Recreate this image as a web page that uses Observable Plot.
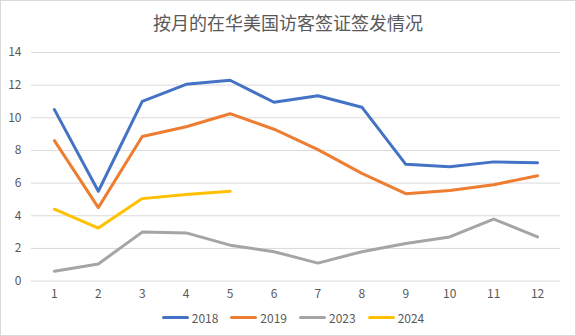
<!DOCTYPE html>
<html><head><meta charset="utf-8">
<script src="https://cdn.jsdelivr.net/npm/d3@7"></script>
<script src="https://cdn.jsdelivr.net/npm/@observablehq/plot@0.6"></script>
<style>
html,body{margin:0;padding:0;background:#fff;}
#wrap{position:relative;width:576px;height:336px;box-sizing:border-box;border:1px solid #d9d9d9;font-family:"Noto Sans CJK SC","Noto Sans",sans-serif;overflow:hidden;}
#title{position:absolute;left:0;top:8px;width:574px;text-align:center;font-size:18px;color:#595959;}
#chart{position:absolute;left:-1px;top:39px;}
#legend{position:absolute;left:5px;top:308px;width:574px;display:flex;justify-content:center;gap:12px;font-size:12px;color:#595959;}
.item{display:flex;align-items:center;}
.sw{width:27px;height:3px;border-radius:2px;margin-right:3px;}
</style></head><body>
<div id="wrap">
<div id="title">按月的在华美国访客签证签发情况</div>
<div id="chart"></div>
<div id="legend"></div>
</div>
<script>
const months = [1,2,3,4,5,6,7,8,9,10,11,12];
const years = ["2018","2019","2023","2024"];
const colors = ["#4472C4","#ED7D31","#A5A5A5","#FFC000"];
const v2018 = [10.5,5.5,11.0,12.05,12.3,10.95,11.35,10.65,7.15,7.0,7.3,7.25];
const v2019 = [8.6,4.5,8.85,9.45,10.25,9.3,8.05,6.6,5.35,5.55,5.9,6.45];
const v2023 = [0.6,1.05,3.0,2.95,2.2,1.8,1.1,1.8,2.3,2.7,3.8,2.7];
const v2024 = [4.4,3.25,5.05,5.3,5.5];
const yTicks = [0,2,4,6,8,10,12,14];

const series = [v2018, v2019, v2023, v2024];
const data = [];
series.forEach((vals, i) => vals.forEach((v, j) => data.push({year: years[i], month: months[j], value: v})));

const plot = Plot.plot({
  width: 576,
  height: 266,
  marginTop: 12,
  marginBottom: 25,
  marginLeft: 31,
  marginRight: 15,
  style: {fontFamily: '"Noto Sans CJK SC","Noto Sans",sans-serif', fontSize: "12px", color: "#595959", background: "transparent"},
  x: {type: "point", domain: months, padding: 0.5, label: null},
  y: {domain: [0, 14], label: null},
  color: {domain: years, range: colors},
  marks: [
    Plot.gridY(yTicks, {stroke: "#d9d9d9", strokeOpacity: 1, strokeWidth: 1}),
    Plot.axisY(yTicks, {tickSize: 0, tickPadding: 10, label: null, fill: "#595959"}),
    Plot.axisX(months, {tickSize: 0, tickPadding: 8, label: null, fill: "#595959"}),
    Plot.line(data, {x: "month", y: "value", z: "year", stroke: "year", strokeWidth: 3, strokeLinecap: "round", strokeLinejoin: "round"})
  ]
});
document.getElementById("chart").appendChild(plot);

const lg = document.getElementById("legend");
years.forEach((y, i) => {
  const it = document.createElement("div");
  it.className = "item";
  it.innerHTML = `<span class="sw" style="background:${colors[i]}"></span><span>${y}</span>`;
  lg.appendChild(it);
});
</script>
</body></html>
